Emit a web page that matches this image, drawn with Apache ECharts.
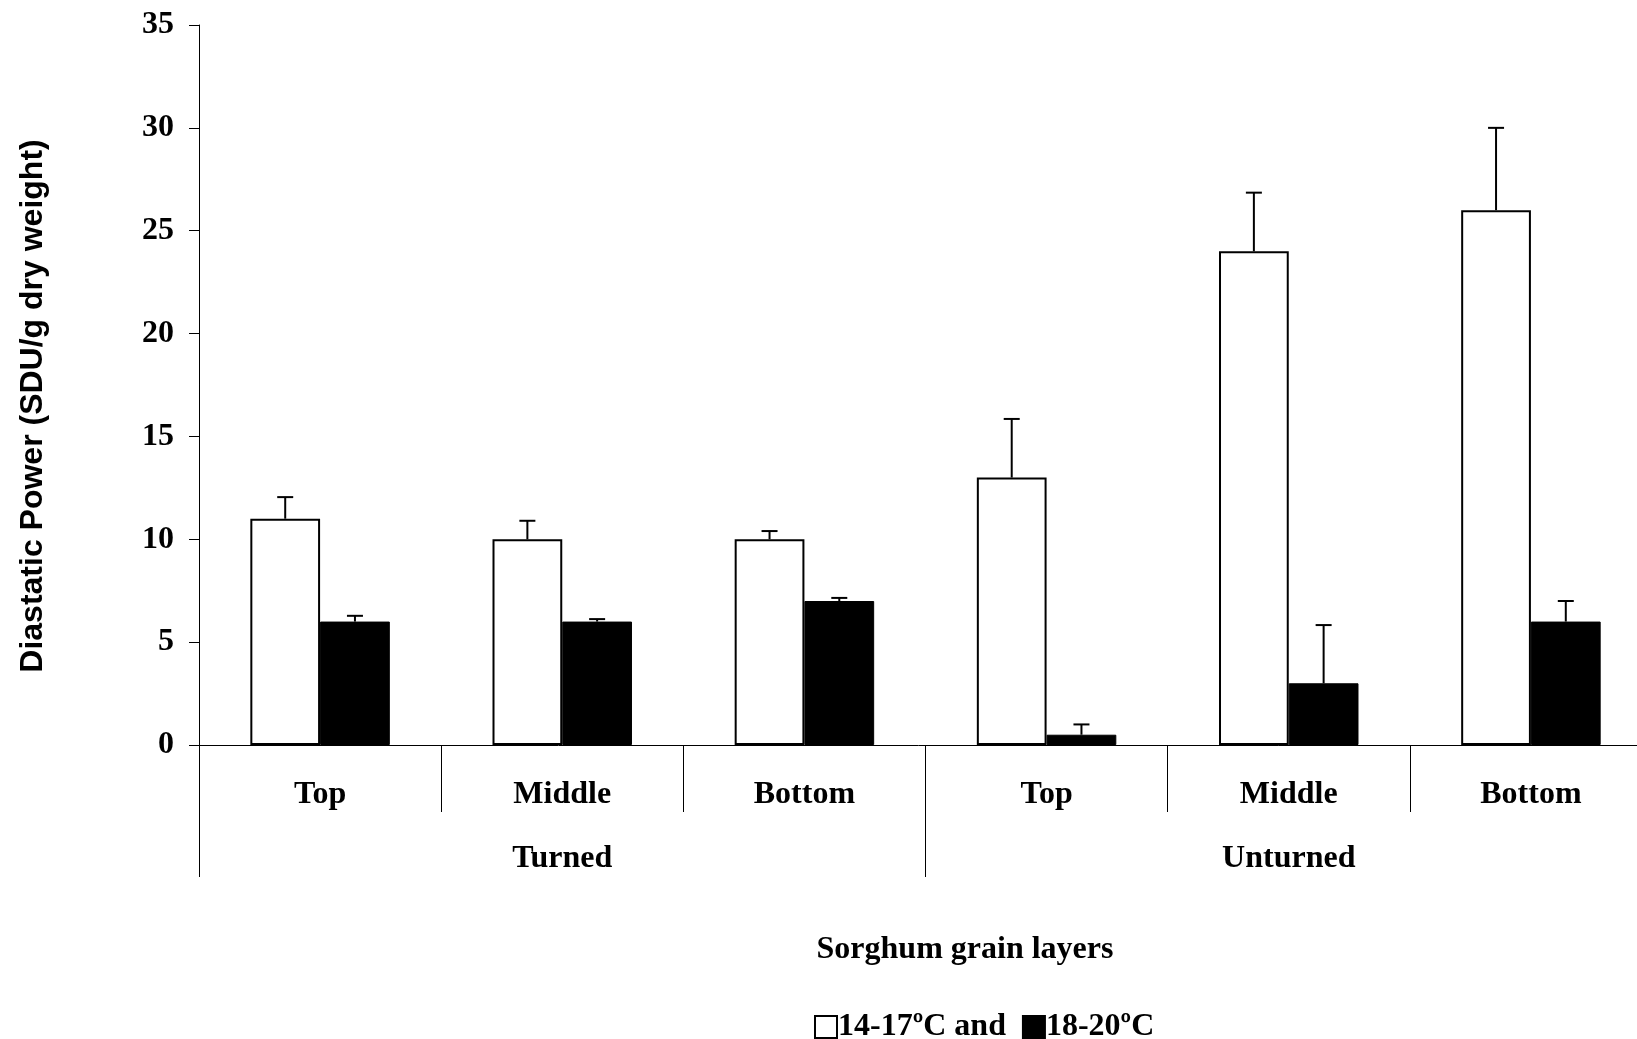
<!DOCTYPE html>
<html><head><meta charset="utf-8">
<script src="https://cdn.jsdelivr.net/npm/echarts@6/dist/echarts.min.js"></script>
<style>html,body{margin:0;padding:0;background:#fff}#c{width:1637px;height:1039px}</style>
</head><body><div id="c"></div>
<script>
// ---- data ----
const layers = ['Top', 'Middle', 'Bottom', 'Top', 'Middle', 'Bottom'];
const groups = ['Turned', 'Unturned'];
const seriesNames = ['14-17ºC', '18-20ºC'];
const lowTemp = [11, 10, 10, 13, 24, 26];
const lowTempErr = [1.05, 0.9, 0.4, 2.85, 2.85, 4.0];
const highTemp = [6, 6, 7, 0.5, 3, 6];
const highTempErr = [0.28, 0.12, 0.15, 0.5, 2.83, 1.0];
const yMin = 0, yMax = 35, yStep = 5;
const yTitle = 'Diastatic Power (SDU/g dry weight)';
const xTitle = 'Sorghum grain layers';

// ---- style ----
const SERIF = '"Liberation Serif", "Times New Roman", serif';
const SANS = '"Liberation Sans", Arial, sans-serif';
const BAR_FRAC = 0.288;
const FS = 32;

function errRender(side) {
  return function (params, api) {
    const i = api.value(0), v = api.value(1), e = api.value(2);
    const band = api.size([1, 0])[0];
    const base = api.coord([i, v]);
    const top = api.coord([i, v + e]);
    const x = base[0] + side * band * BAR_FRAC / 2;
    const cap = 8;
    return {
      type: 'group',
      children: [
        { type: 'line', shape: { x1: x, y1: base[1], x2: x, y2: top[1] }, style: { stroke: '#000', lineWidth: 2 } },
        { type: 'line', shape: { x1: x - cap, y1: top[1], x2: x + cap, y2: top[1] }, style: { stroke: '#000', lineWidth: 2 } }
      ]
    };
  };
}

const chart = echarts.init(document.getElementById('c'), null, { renderer: 'canvas' });
chart.setOption({
  animation: false,
  backgroundColor: '#fff',
  grid: { left: 199, top: 25, width: 1453, height: 720, outerBoundsMode: 'none', containLabel: false },
  legend: {
    data: seriesNames,
    left: 809, top: 1006,
    itemWidth: 22, itemHeight: 22, itemGap: 16,
    icon: 'rect',
    formatter: n => n === seriesNames[0] ? n + ' and' : n,
    textStyle: { fontFamily: SERIF, fontWeight: 'bold', fontSize: FS, color: '#000', padding: [0, 0, 0, -4] }
  },
  xAxis: [{
    type: 'category', data: layers, position: 'bottom',
    axisLine: { show: true, lineStyle: { color: '#000', width: 1 } },
    axisTick: { show: true, length: 67, lineStyle: { color: '#000', width: 1 } },
    axisLabel: { show: true, interval: 0, margin: 34, fontFamily: SERIF, fontWeight: 'bold', fontSize: FS, lineHeight: FS, color: '#000' }
  }, {
    type: 'category', data: groups, position: 'bottom',
    axisLine: { show: false },
    axisTick: { show: true, length: 132, lineStyle: { color: '#000', width: 1 } },
    axisLabel: { show: true, interval: 0, margin: 98, fontFamily: SERIF, fontWeight: 'bold', fontSize: FS, lineHeight: FS, color: '#000' }
  }],
  yAxis: {
    type: 'value', min: yMin, max: yMax, interval: yStep,
    splitLine: { show: false },
    axisLine: { show: true, lineStyle: { color: '#000', width: 1 } },
    axisTick: { show: true, length: 10, lineStyle: { color: '#000', width: 1 } },
    axisLabel: { margin: 25, fontFamily: SERIF, fontWeight: 'bold', fontSize: FS, color: '#000' }
  },
  graphic: [
    { type: 'text', x: 33, y: 406, rotation: Math.PI / 2,
      style: { text: yTitle, font: 'bold 32px ' + SANS, fill: '#000', align: 'center', verticalAlign: 'middle' } },
    { type: 'text', x: 965, y: 950,
      style: { text: xTitle, font: 'bold 32px ' + SERIF, fill: '#000', align: 'center', verticalAlign: 'middle' } }
  ],
  series: [
    { name: seriesNames[0], type: 'bar', data: lowTemp, barWidth: (BAR_FRAC * 100) + '%', barGap: '0%',
      itemStyle: { color: '#fff', borderColor: '#000', borderWidth: 2 } },
    { name: seriesNames[1], type: 'bar', data: highTemp, barWidth: (BAR_FRAC * 100) + '%', barGap: '0%',
      itemStyle: { color: '#000', borderColor: '#000', borderWidth: 1 } },
    { name: 'err0', type: 'custom', renderItem: errRender(-1), z: 5,
      data: lowTemp.map((v, i) => [i, v, lowTempErr[i]]), encode: { x: 0, y: 1 } },
    { name: 'err1', type: 'custom', renderItem: errRender(1), z: 5,
      data: highTemp.map((v, i) => [i, v, highTempErr[i]]), encode: { x: 0, y: 1 } }
  ]
});
</script>
</body></html>
